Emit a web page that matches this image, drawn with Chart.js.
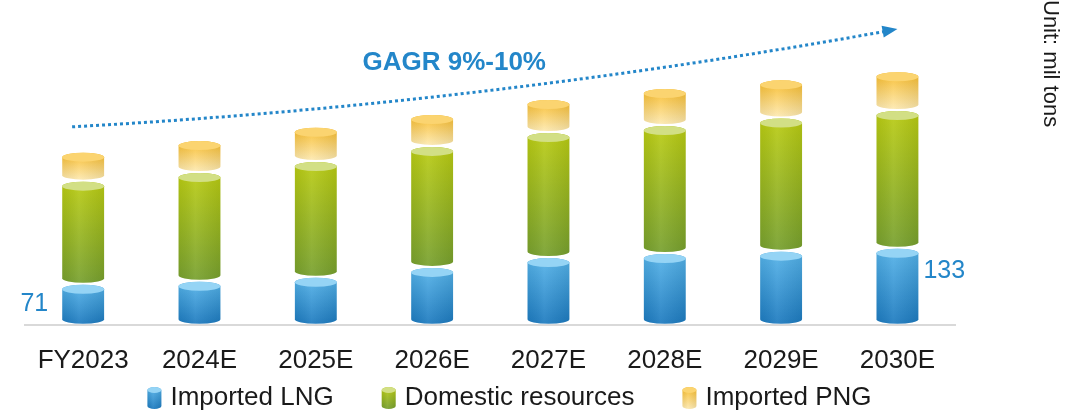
<!DOCTYPE html>
<html lang="en">
<head>
  <meta charset="UTF-8" />
  <title>Gas supply outlook</title>
  <style>
    html, body { margin: 0; padding: 0; background: #fff; }
    canvas { display: block; }
  </style>
  <script src="https://cdn.jsdelivr.net/npm/chart.js"></script>
</head>
<body>
  <canvas id="chart" width="1087" height="411"></canvas>

  <script>
    const years = ['FY2023', '2024E', '2025E', '2026E', '2027E', '2028E', '2029E', '2030E'];
    const importedLng = [71, 76, 83, 100, 117, 124, 128, 133];
    const domestic = [178, 188, 200, 209, 216, 221, 230, 238];
    const importedPng = [50, 55, 59, 55, 57, 64, 66, 67];
    const seriesNames = ['Imported LNG', 'Domestic resources', 'Imported PNG'];
    const growthLabel = 'GAGR 9%-10%';
    const unitLabel = 'Unit: mil tons';

    const FONT = "'Liberation Sans', Arial, sans-serif";
    const BLUE = '#2386c9';

    // body gradient (top -> bottom) and lid colour per series
    const palette = [
      { top: '#55b3e9', bottom: '#1c7abf', lid: '#95d4f5' },
      { top: '#bacc12', bottom: '#77a02e', lid: '#d2df85' },
      { top: '#f8bb27', bottom: '#fde9b0', lid: '#fbd470' }
    ];

    function cylinder(ctx, x, top, bottom, w, c, ry) {
      const rx = w / 2, l = x - rx, r = x + rx;
      const path = new Path2D();
      path.moveTo(l, top + ry);
      path.lineTo(l, bottom - ry);
      path.ellipse(x, bottom - ry, rx, ry, 0, Math.PI, 0, true);
      path.lineTo(r, top + ry);
      path.ellipse(x, top + ry, rx, ry, 0, 0, Math.PI, true);
      path.closePath();

      const g = ctx.createLinearGradient(0, top, 0, bottom);
      g.addColorStop(0, c.top);
      g.addColorStop(1, c.bottom);
      ctx.fillStyle = g;
      ctx.fill(path);

      // a little side shading so it reads as round
      const s = ctx.createLinearGradient(l, 0, r, 0);
      s.addColorStop(0, 'rgba(0,0,0,0.05)');
      s.addColorStop(0.4, 'rgba(255,255,255,0.08)');
      s.addColorStop(1, 'rgba(0,0,0,0.07)');
      ctx.fillStyle = s;
      ctx.fill(path);

      ctx.beginPath();
      ctx.ellipse(x, top + ry, rx, ry, 0, 0, Math.PI * 2);
      ctx.fillStyle = c.lid;
      ctx.fill();
    }

    const cylinderBars = {
      id: 'cylinderBars',
      beforeDatasetsDraw(chart) {
        const ctx = chart.ctx;
        ctx.save();
        chart.data.datasets.forEach((ds, i) => {
          chart.getDatasetMeta(i).data.forEach(el => {
            const top = Math.min(el.y, el.base) + 1;
            const bottom = Math.max(el.y, el.base) - 1;
            cylinder(ctx, el.x, top, bottom, el.width, palette[i], 4.5);
          });
        });
        ctx.restore();
        return false;
      },
      afterDraw(chart) {
        const ctx = chart.ctx;
        const xs = chart.scales.x, ys = chart.scales.y;
        const lng = chart.getDatasetMeta(0).data;
        ctx.save();

        // first and last LNG values
        ctx.font = '25px ' + FONT;
        ctx.fillStyle = BLUE;
        ctx.textBaseline = 'middle';
        const first = lng[0], last = lng[lng.length - 1];
        ctx.textAlign = 'right';
        ctx.fillText(String(importedLng[0]), first.x - first.width / 2 - 14, (first.y + first.base) / 2);
        ctx.textAlign = 'left';
        ctx.fillText(String(importedLng[importedLng.length - 1]), last.x + last.width / 2 + 5, last.y + 23);

        // growth trend arrow
        const p0 = { x: xs.getPixelForValue(-0.095), y: ys.getPixelForValue(342) };
        const pc = { x: xs.getPixelForValue(3.38), y: ys.getPixelForValue(380) };
        const p1 = { x: xs.getPixelForValue(7), y: ys.getPixelForValue(511) };
        ctx.strokeStyle = BLUE;
        ctx.lineWidth = 3;
        ctx.setLineDash([3, 3]);
        ctx.beginPath();
        ctx.moveTo(p0.x, p0.y);
        ctx.quadraticCurveTo(pc.x, pc.y, p1.x - 10, p1.y + 2);
        ctx.stroke();
        ctx.setLineDash([]);
        const a = Math.atan2(p1.y - pc.y, p1.x - pc.x);
        ctx.translate(p1.x, p1.y);
        ctx.rotate(a);
        ctx.beginPath();
        ctx.moveTo(0, 0);
        ctx.lineTo(-15, -6);
        ctx.lineTo(-15, 6);
        ctx.closePath();
        ctx.fillStyle = BLUE;
        ctx.fill();
        ctx.setTransform(1, 0, 0, 1, 0, 0);

        ctx.font = 'bold 26px ' + FONT;
        ctx.textAlign = 'center';
        ctx.fillText(growthLabel, xs.getPixelForValue(3.19), ys.getPixelForValue(453));

        // legend
        ctx.font = '26px ' + FONT;
        ctx.textAlign = 'left';
        const boxW = 14, gapIn = 9, gapOut = 48;
        const widths = seriesNames.map(n => ctx.measureText(n).width);
        const total = widths.reduce((s, w) => s + w, 0) + seriesNames.length * (boxW + gapIn) + (seriesNames.length - 1) * gapOut;
        let lx = chart.width / 2 - 34 - total / 2;
        const ly = 398;
        seriesNames.forEach((name, i) => {
          cylinder(ctx, lx + boxW / 2, ly - 11, ly + 11, boxW, palette[i], 3);
          ctx.fillStyle = '#1a1a1a';
          ctx.fillText(name, lx + boxW + gapIn, ly);
          lx += boxW + gapIn + widths[i] + gapOut;
        });
        ctx.restore();
      }
    };

    new Chart(document.getElementById('chart'), {
      type: 'bar',
      data: {
        labels: years,
        datasets: [
          { label: seriesNames[0], data: importedLng, backgroundColor: palette[0].bottom },
          { label: seriesNames[1], data: domestic, backgroundColor: palette[1].bottom },
          { label: seriesNames[2], data: importedPng, backgroundColor: palette[2].top }
        ]
      },
      options: {
        responsive: false,
        animation: false,
        layout: { padding: { left: 25, right: 0, top: 0, bottom: 15 } },
        datasets: { bar: { categoryPercentage: 0.4, barPercentage: 0.9 } },
        plugins: {
          legend: { display: false },
          tooltip: { enabled: false }
        },
        scales: {
          x: {
            stacked: true,
            grid: { display: false, drawTicks: false },
            border: { display: true, color: '#d9d9d9', width: 2 },
            ticks: { color: '#1a1a1a', font: { family: FONT, size: 26 }, padding: 20, maxRotation: 0, autoSkip: false }
          },
          y: {
            stacked: true,
            position: 'right',
            min: 0,
            max: 561,
            grid: { display: false, drawTicks: false },
            border: { display: false },
            ticks: { display: false },
            title: {
              display: true,
              text: unitLabel,
              align: 'end',
              color: '#1a1a1a',
              font: { family: FONT, size: 22 },
              padding: { top: 24, bottom: 81 }
            }
          }
        }
      },
      plugins: [cylinderBars]
    });
  </script>
</body>
</html>
